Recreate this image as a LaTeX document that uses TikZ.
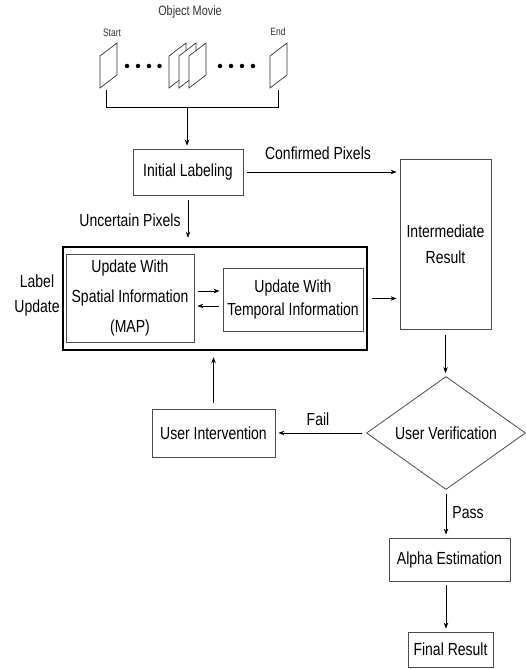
\documentclass[tikz,border=0pt]{standalone}
\usepackage{fontspec}
\setmainfont{Liberation Sans}[FakeStretch=0.8]
\usetikzlibrary{shapes.geometric,arrows.meta,calc}
\begin{document}
\begin{tikzpicture}[x=1pt,y=-1pt,
 box/.style={draw=black!70, line width=0.8pt, inner sep=0pt, align=center, font=\fontsize{17.5}{20}\selectfont},
 arr/.style={-{Stealth[length=6pt,width=4.5pt]}, line width=0.8pt, shorten <=4pt, shorten >=3pt},
 lbl/.style={inner sep=0pt, align=center, font=\fontsize{17.5}{20}\selectfont},
 movframe/.style={draw=black!80, fill=white, line width=0.7pt},
 dot/.style={fill=black, circle, inner sep=0pt, minimum size=4.5pt}]
\path[use as bounding box] (0,0) rectangle (525,669);

% top: object movie
\node[lbl, font=\fontsize{13.6}{15}\selectfont, text=black!80] (om) at (190,12) {Object Movie};
\node[lbl, font=\fontsize{10.6}{12}\selectfont, text=black!80] (st) at (112,33) {Start};
\node[lbl, font=\fontsize{10.6}{12}\selectfont, text=black!80] (en) at (278,32) {End};
\draw[movframe] (100,88) -- (100,56) -- (117,43) -- (117,75) -- cycle;
\foreach \x in {169,179,189}
  \draw[movframe] (\x,88) -- (\x,56) -- (\x+17,43) -- (\x+17,75) -- cycle;
\draw[movframe] (270,88) -- (270,56) -- (287,43) -- (287,75) -- cycle;
\foreach \x in {127,138,149,159.5,220,231,242,253}
  \node[dot] at (\x,66) {};
\coordinate (brk) at (187,107);
\draw[line width=0.8pt] (106,90) -- (106,107) -- (278,107) -- (278,90);

% main boxes
\node[box, minimum width=110, minimum height=46] (init) at (188,172) {Initial Labeling};
\node[box, minimum width=91, minimum height=170, font=\fontsize{17.5}{26}\selectfont] (inter) at (445.5,244) {Intermediate\\Result};
\node[draw=black, line width=2.5pt, minimum width=304, minimum height=103, inner sep=0pt] (lu) at (215,298.5) {};
\node[box, minimum width=128, minimum height=88, font=\fontsize{17.5}{30}\selectfont] (spat) at (130,298) {Update With\\Spatial Information\\(MAP)};
\node[box, minimum width=140, minimum height=63, font=\fontsize{17.5}{23}\selectfont] (temp) at (293,299.5) {Update With\\Temporal Information};
\node[lbl, font=\fontsize{17.5}{25}\selectfont] (lulbl) at (37,295.5) {Label\\Update};
\node[box, minimum width=123, minimum height=48] (ui) at (213.5,433) {User Intervention};
\node[box, shape=diamond, aspect=1.4, minimum width=159, minimum height=113] (dia) at (446,433) {User Verification};
\node[box, minimum width=121, minimum height=43] (alpha) at (449.5,559.5) {Alpha Estimation};
\node[box, minimum width=85, minimum height=35] (final) at (450.5,649.5) {Final Result};

% connectors
\draw[arr, shorten <=0pt] (brk) -- (brk |- init.north);
\draw[arr] (init.east) -- (init.east -| inter.west);
\node[lbl] (conf) at (318,153) {Confirmed Pixels};
\draw[arr, shorten <=5pt, shorten >=8pt] (init.south) -- (init.south |- lu.north);
\node[lbl] (unc) at (130,220) {Uncertain Pixels};
\draw[arr] ([yshift=7pt]spat.east) -- ([yshift=7pt]spat.east -| temp.west);
\draw[arr] ([yshift=-8pt]spat.east -| temp.west) -- ([yshift=-8pt]spat.east);
\draw[arr] (lu.east) -- (lu.east -| inter.west);
\draw[arr, shorten <=6pt] (inter.south) -- (inter.south |- dia.north);
\draw[arr] (dia.west) -- (ui.east);
\node[lbl] (fail) at (318,419) {Fail};
\draw[arr, shorten <=6pt, shorten >=6pt] (ui.north) -- (ui.north |- lu.south);
\draw[arr] (dia.south) -- (dia.south |- alpha.north);
\node[lbl] (pass) at (468,513) {Pass};
\draw[arr] (alpha.south -| dia.south) -- (dia.south |- final.north);
\end{tikzpicture}
\end{document}
